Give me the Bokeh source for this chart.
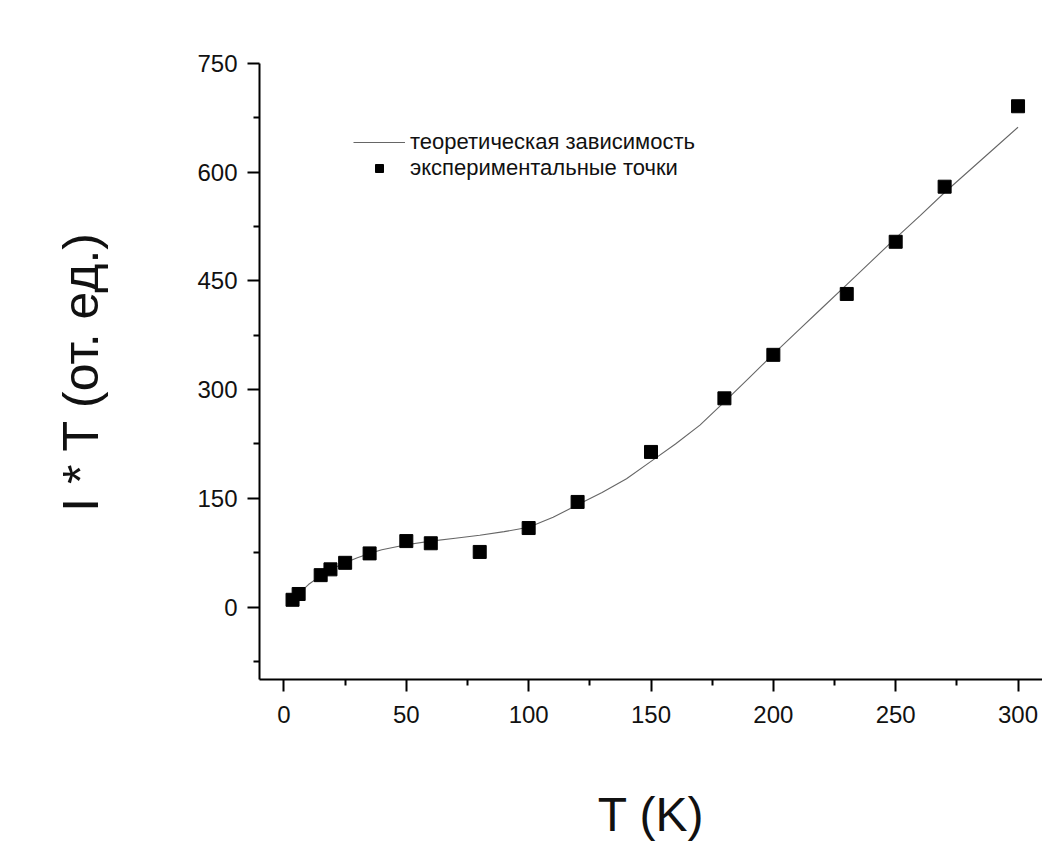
from bokeh.plotting import figure
from bokeh.models import Range1d, FixedTicker, Legend, LegendItem
from bokeh.embed import file_html
from bokeh.resources import INLINE

# Experimental points
T_exp = [3.5, 6, 15, 19, 25, 35, 50, 60, 80, 100, 120, 150, 180, 200, 230, 250, 270, 300]
IT_exp = [10, 18, 44, 52, 61, 74, 91, 88, 76, 109, 145, 214, 288, 348, 432, 504, 580, 691]

# Theoretical curve
T_th = [2, 5, 10, 15, 20, 25, 30, 35, 40, 50, 60, 70, 80, 90, 100, 110, 120, 130,
        140, 150, 160, 170, 180, 190, 200, 210, 220, 230, 240, 250, 260, 270, 280, 290, 300]
IT_th = [4, 15, 31, 43, 53, 61, 68, 74, 79, 86, 91, 95, 99, 104, 110, 124, 141, 158,
         177, 201, 225, 251, 283, 316, 349, 381, 413, 445, 477, 509, 540, 572, 602, 632, 662]

x_ticks = [0, 50, 100, 150, 200, 250, 300]
x_minor = [25, 75, 125, 175, 225, 275]
y_ticks = [0, 150, 300, 450, 600, 750]
y_minor = [-75, 75, 225, 375, 525, 675]

FONT = "Liberation Sans"

p = figure(width=1042, height=843, output_backend="svg", toolbar_location=None,
           x_range=Range1d(-10, 310), y_range=Range1d(-100, 750),
           min_border_left=259, min_border_right=0, min_border_top=63, min_border_bottom=163)
p.outline_line_color = None
p.xgrid.visible = False
p.ygrid.visible = False
p.background_fill_color = "white"
p.border_fill_color = "white"

line_r = p.line(T_th, IT_th, line_color="#666666", line_width=1.1)
sq_r = p.scatter(T_exp, IT_exp, marker="square", size=13, fill_color="black", line_color="black")

p.xaxis.ticker = FixedTicker(ticks=x_ticks, minor_ticks=x_minor)
p.yaxis.ticker = FixedTicker(ticks=y_ticks, minor_ticks=y_minor)

for ax in (p.xaxis[0], p.yaxis[0]):
    ax.axis_line_color = "black"
    ax.axis_line_width = 2
    ax.major_tick_line_color = "black"
    ax.major_tick_line_width = 2
    ax.minor_tick_line_color = "black"
    ax.minor_tick_line_width = 2
    ax.major_tick_out = 12
    ax.major_tick_in = 0
    ax.minor_tick_out = 6
    ax.minor_tick_in = 0
    ax.major_label_text_font = FONT
    ax.major_label_text_font_size = "24px"
    ax.major_label_text_color = "#111111"
    ax.axis_label_text_font = FONT
    ax.axis_label_text_font_style = "normal"
    ax.axis_label_text_color = "#111111"

p.xaxis.axis_label = "T (K)"
p.yaxis.axis_label = "I * T (от. ед.)"
p.xaxis.axis_label_text_font_size = "48px"
p.yaxis.axis_label_text_font_size = "50px"
p.xaxis.major_label_standoff = 14
p.yaxis.major_label_standoff = 10
p.xaxis.axis_label_standoff = 62
p.yaxis.axis_label_standoff = 85


def make_legend(item, loc):
    lg = Legend(items=[item], location=loc)
    lg.label_text_font = FONT
    lg.label_text_font_size = "22px"
    lg.label_text_color = "#111111"
    lg.border_line_color = None
    lg.background_fill_alpha = 0
    lg.padding = 0
    lg.margin = 0
    lg.spacing = 0
    lg.glyph_width = 52
    lg.glyph_height = 20
    lg.label_height = 20
    lg.label_standoff = 5
    return lg


p.add_layout(make_legend(LegendItem(label="теоретическая зависимость", renderers=[line_r]), (94, 524)), "center")
p.add_layout(make_legend(LegendItem(label="экспериментальные точки", renderers=[sq_r]), (94, 498)), "center")

open("out.html", "w").write(file_html(p, INLINE))
